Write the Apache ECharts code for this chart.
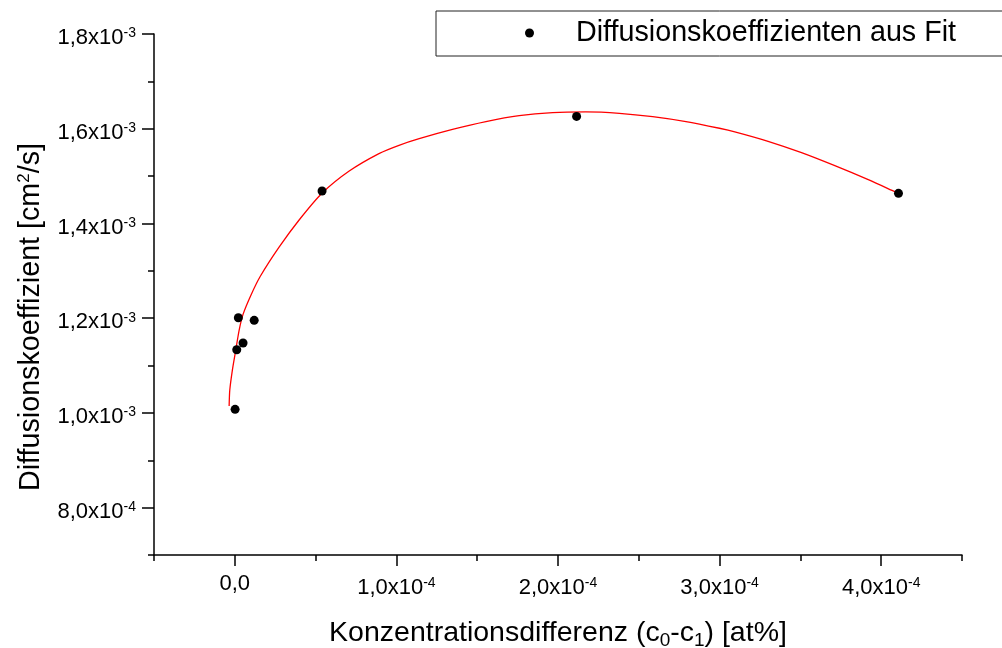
<!DOCTYPE html>
<html>
<head>
<meta charset="utf-8">
<script src="https://cdn.jsdelivr.net/npm/echarts/dist/echarts.min.js"></script>
<style>
html,body{margin:0;padding:0;background:#fff;}
#chart{width:1002px;height:648px;}
</style>
</head>
<body>
<div id="chart"></div>
<script>
// ---- data ----
const seriesName = 'Diffusionskoeffizienten aus Fit';
const pointX = [1.9e-7, 1.2e-6, 2.2e-6, 5.1e-6, 1.2e-5, 5.4e-5, 2.115e-4, 4.107e-4];
const pointY = [1.0075e-3, 1.1334e-3, 1.2010e-3, 1.1475e-3, 1.1955e-3, 1.4685e-3, 1.6260e-3, 1.4636e-3];

const fitX = [-3.5e-6, -3.1e-6, -1.5e-6, 6e-7, 2.7e-6, 5.1e-6, 9.9e-6, 1.57e-5, 2.74e-5, 3.98e-5,
  5.41e-5, 7.08e-5, 8.92e-5, 1.016e-4, 1.141e-4, 1.347e-4, 1.554e-4, 1.760e-4, 1.967e-4, 2.173e-4,
  2.380e-4, 2.586e-4, 2.792e-4, 2.999e-4, 3.094e-4, 3.300e-4, 3.507e-4, 3.713e-4, 3.920e-4, 4.085e-4, 4.107e-4];
const fitY = [1.0145e-3, 1.0483e-3, 1.0905e-3, 1.1328e-3, 1.1750e-3, 1.2080e-3, 1.2480e-3, 1.2880e-3, 1.3500e-3, 1.4073e-3,
  1.4643e-3, 1.5107e-3, 1.5475e-3, 1.5650e-3, 1.5790e-3, 1.5985e-3, 1.6150e-3, 1.6275e-3, 1.6340e-3, 1.6355e-3,
  1.6325e-3, 1.6255e-3, 1.6150e-3, 1.6010e-3, 1.5935e-3, 1.5735e-3, 1.5495e-3, 1.5220e-3, 1.4925e-3, 1.4670e-3, 1.4636e-3];

// tick labels
const xTickValues = [0, 1e-4, 2e-4, 3e-4, 4e-4];
const xTickMantissa = ['0,0', '1,0', '2,0', '3,0', '4,0'];
const xTickExp = ['', '-4', '-4', '-4', '-4'];
const yTickValues = [8e-4, 1.0e-3, 1.2e-3, 1.4e-3, 1.6e-3, 1.8e-3];
const yTickMantissa = ['8,0', '1,0', '1,2', '1,4', '1,6', '1,8'];
const yTickExp = ['-4', '-3', '-3', '-3', '-3', '-3'];

// ---- chart ----
const FF = "'Liberation Sans', Arial, Helvetica, sans-serif";
const pointData = pointX.map((x, i) => [x, pointY[i]]);
const fitData = fitX.map((x, i) => [x, fitY[i]]);

function findIdx(arr, v) {
  let best = 0, bd = Infinity;
  arr.forEach((a, i) => { const d = Math.abs(a - v); if (d < bd) { bd = d; best = i; } });
  return best;
}
function fmt(values, mant, exps) {
  return function (v) {
    const i = findIdx(values, v);
    if (!exps[i]) return '{z|' + mant[i] + '}';
    return '{m|' + mant[i] + 'x10}{s|' + exps[i] + '}';
  };
}
const tickRich = {
  m: { fontSize: 22, lineHeight: 21, padding: [8, 0, 0, 0], fontFamily: FF, color: '#000' },
  s: { fontSize: 14, lineHeight: 14, padding: [3, 0, 0, 0], verticalAlign: 'top', fontFamily: FF, color: '#000' },
  z: { fontSize: 22, lineHeight: 21, fontFamily: FF, color: '#000' }
};
const lineSt = { color: '#000', width: 1.5 };

const chart = echarts.init(document.getElementById('chart'), null, { renderer: 'canvas' });
chart.setOption({
  backgroundColor: '#fff',
  animation: false,
  textStyle: { fontFamily: FF },
  grid: { left: 154, right: 40, top: 34, bottom: 93, containLabel: false, outerBoundsMode: 'none' },
  legend: {
    data: [seriesName],
    left: 436, top: 11,
    padding: [7, 120, 8, 89],
    borderColor: '#222', borderWidth: 1,
    itemWidth: 9, itemHeight: 9,
    icon: 'circle',
    selectedMode: false,
    textStyle: { fontSize: 28.7, lineHeight: 30, fontFamily: FF, color: '#000', padding: [0, 0, 0, 37] }
  },
  xAxis: [
    {
      type: 'value', position: 'bottom', min: -0.5e-4, max: 4.5e-4, interval: 0.5e-4,
      axisLine: { show: true, onZero: false, lineStyle: lineSt },
      axisTick: { show: true, inside: false, length: 6, lineStyle: lineSt },
      axisLabel: { show: false },
      splitLine: { show: false },
      name: '{t|Konzentrationsdifferenz (c}{b|0}{t|-c}{b|1}{t|) [at%]}',
      nameLocation: 'middle', nameGap: 67,
      nameTextStyle: {
        rich: {
          t: { fontSize: 28.5, lineHeight: 28, padding: [0, 0, 6, 0], fontFamily: FF, color: '#000' },
          b: { fontSize: 19, lineHeight: 19, verticalAlign: 'bottom', fontFamily: FF, color: '#000' }
        }
      }
    },
    {
      type: 'value', position: 'bottom', min: -0.5e-4, max: 4.5e-4,
      axisLine: { show: false, onZero: false },
      axisTick: { show: true, length: 11, lineStyle: lineSt, customValues: xTickValues },
      axisLabel: { show: true, margin: 18, customValues: xTickValues, formatter: fmt(xTickValues, xTickMantissa, xTickExp), rich: tickRich },
      splitLine: { show: false }
    }
  ],
  yAxis: [
    {
      type: 'value', position: 'left', min: 0.7e-3, max: 1.8e-3, interval: 1e-4,
      axisLine: { show: true, onZero: false, lineStyle: lineSt },
      axisTick: { show: true, inside: false, length: 6, lineStyle: lineSt },
      axisLabel: { show: false },
      splitLine: { show: false },
      name: '{t|Diffusionskoeffizient [cm}{u|2}{t|/s]}',
      nameLocation: 'middle', nameRotate: 90, nameGap: 108,
      nameTextStyle: {
        padding: [0, 45, 0, 0],
        rich: {
          t: { fontSize: 28.7, lineHeight: 30, fontFamily: FF, color: '#000' },
          u: { fontSize: 17, lineHeight: 17, verticalAlign: 'top', fontFamily: FF, color: '#000' }
        }
      }
    },
    {
      type: 'value', position: 'left', min: 0.7e-3, max: 1.8e-3,
      axisLine: { show: false, onZero: false },
      axisTick: { show: true, length: 12, lineStyle: lineSt, customValues: yTickValues },
      axisLabel: { show: true, margin: 18, customValues: yTickValues, formatter: fmt(yTickValues, yTickMantissa, yTickExp), rich: tickRich },
      splitLine: { show: false }
    }
  ],
  series: [
    {
      name: 'Fit', type: 'line', xAxisIndex: 0, yAxisIndex: 0,
      data: fitData, showSymbol: false, symbol: 'none', smooth: 0.25,
      lineStyle: { color: '#ff0000', width: 1.3 }, z: 2
    },
    {
      name: seriesName, type: 'scatter', xAxisIndex: 0, yAxisIndex: 0,
      data: pointData, symbol: 'circle', symbolSize: 9,
      itemStyle: { color: '#000', opacity: 1 }, z: 3
    }
  ]
});
</script>
</body>
</html>
